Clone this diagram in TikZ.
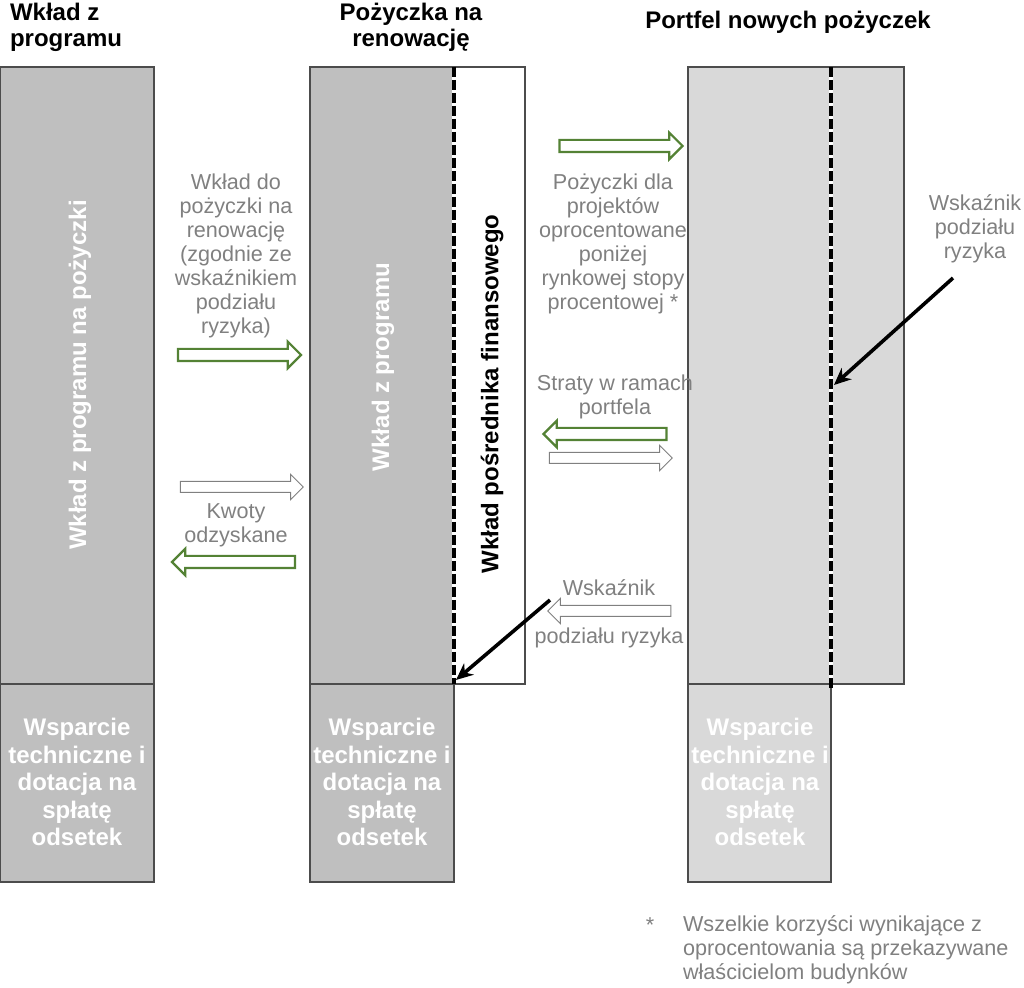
\documentclass[tikz,border=0pt]{standalone}
\usepackage{fontspec}
\setmainfont{Liberation Sans}
\usetikzlibrary{shapes.arrows,arrows.meta}

\definecolor{boxgray}{RGB}{191,191,191}
\definecolor{portgray}{RGB}{217,217,217}
\definecolor{labelgray}{RGB}{128,128,128}
\definecolor{flowgreen}{RGB}{84,130,53}

\tikzset{
  darkcol/.style={draw=black!70, fill=boxgray, line width=0.6pt},
  lightcol/.style={draw=black!70, fill=portgray, line width=0.6pt},
  emptycol/.style={draw=black!70, fill=white, line width=0.6pt},
  heading/.style={font=\fontsize{12}{13}\selectfont\bfseries, align=center},
  whitetxt/.style={text=white, font=\fontsize{12}{13.75}\selectfont\bfseries, align=center},
  sidetxt/.style={font=\fontsize{12}{13}\selectfont\bfseries, rotate=90},
  greytxt/.style={text=labelgray, font=\fontsize{10.8}{12}\selectfont, align=center},
  flow/.style={single arrow, fill=white, inner xsep=0pt, inner ysep=2.5pt,
    single arrow head extend=3.6pt, single arrow tip angle=90,
    minimum height=61.5pt},
  greenflow/.style={flow, draw=flowgreen, line width=1.1pt},
  greyflow/.style={flow, draw=labelgray, line width=0.5pt},
  pointleft/.style={shape border rotate=180},
  splitline/.style={line width=1.6pt, dash pattern=on 5pt off 1.5pt,
    preaction={draw=white, solid, line width=1.6pt}},
  pointer/.style={line width=1.8pt, -{Stealth[length=8.5pt,width=7.5pt]}}
}

\begin{document}
\begin{tikzpicture}[x=0.5pt, y=-0.5pt]
    \useasboundingbox (0,0) rectangle (1024,988);

    % Column 1: programme contribution
    \draw[darkcol] (0,67) rectangle (154,684);
    \draw[darkcol] (0,684) rectangle (154,882);
    \node[heading, align=left, anchor=west] (progtitle) at (3,27) {Wkład z\\programu};
    \node[sidetxt, text=white] (progside) at (80,375) {Wkład z programu na pożyczki};
    \node[whitetxt] (progsupport) at (77,782) {Wsparcie\\techniczne i\\dotacja na\\spłatę\\odsetek};

    % Column 2: renovation loan
    \draw[darkcol] (310,67) rectangle (454,684);
    \draw[emptycol] (454,67) rectangle (525,684);
    \draw[darkcol] (310,684) rectangle (454,882);
    \draw[splitline] (454,67) -- (454,684);
    \node[heading] (loantitle) at (411,27) {Pożyczka na\\renowację};
    \node[sidetxt, text=white] (loanside) at (383,367) {Wkład z programu};
    \node[sidetxt] (fiside) at (492,394) {Wkład pośrednika finansowego};
    \node[whitetxt] (loansupport) at (382,782) {Wsparcie\\techniczne i\\dotacja na\\spłatę\\odsetek};

    % Column 3: portfolio
    \draw[lightcol] (688,67) rectangle (904,684);
    \draw[lightcol] (688,684) rectangle (831,882);
    \draw[splitline] (831,67) -- (831,688);
    \node[heading] (porttitle) at (788,22) {Portfel nowych pożyczek};
    \node[whitetxt] (portsupport) at (760,782) {Wsparcie\\techniczne i\\dotacja na\\spłatę\\odsetek};

    % Flows between column 1 and 2
    \node[greytxt] (contriblbl) at (236,256) {Wkład do\\pożyczki na\\renowację\\(zgodnie ze\\wskaźnikiem\\podziału\\ryzyka)};
    \node[greenflow] (contribflow) at (236.5,355) {};
    \node[greyflow] (backflow) at (239,487) {};
    \node[greytxt] (recovlbl) at (236,525) {Kwoty\\odzyskane};
    \node[greenflow, pointleft] (recovflow) at (236.5,562) {};

    % Flows between column 2 and 3
    \node[greenflow] (lendflow) at (618,146) {};
    \node[greytxt] (lendlbl) at (613,244) {Pożyczki dla\\projektów\\oprocentowane\\poniżej\\rynkowej stopy\\procentowej *};
    \node[greytxt] (losslbl) at (615,397) {Straty w ramach\\portfela};
    \node[greenflow, pointleft] (lossflow) at (608,434) {};
    \node[greyflow] (lossback) at (608,458) {};
    \node[greytxt] (ratiolbl) at (609,588) {Wskaźnik};
    \node[greyflow, pointleft] (ratioflow) at (612,611) {};
    \node[greytxt] (ratiolbl2) at (609,638) {podziału ryzyka};

    % Risk sharing pointers
    \node[greytxt] (portratio) at (975,229) {Wskaźnik\\podziału\\ryzyka};
    \coordinate (loansplit) at (456,680);
    \coordinate (portsplit) at (834,385);
    \draw[pointer] (550,600) -- (loansplit);
    \draw[pointer] (953,278) -- (portsplit);

    % Footnote
    \node[greytxt] (star) at (650,925) {*};
    \node[greytxt, align=left, anchor=west] (footnote) at (676,950) {Wszelkie korzyści wynikające z\\oprocentowania są przekazywane\\właścicielom budynków};
\end{tikzpicture}
\end{document}
